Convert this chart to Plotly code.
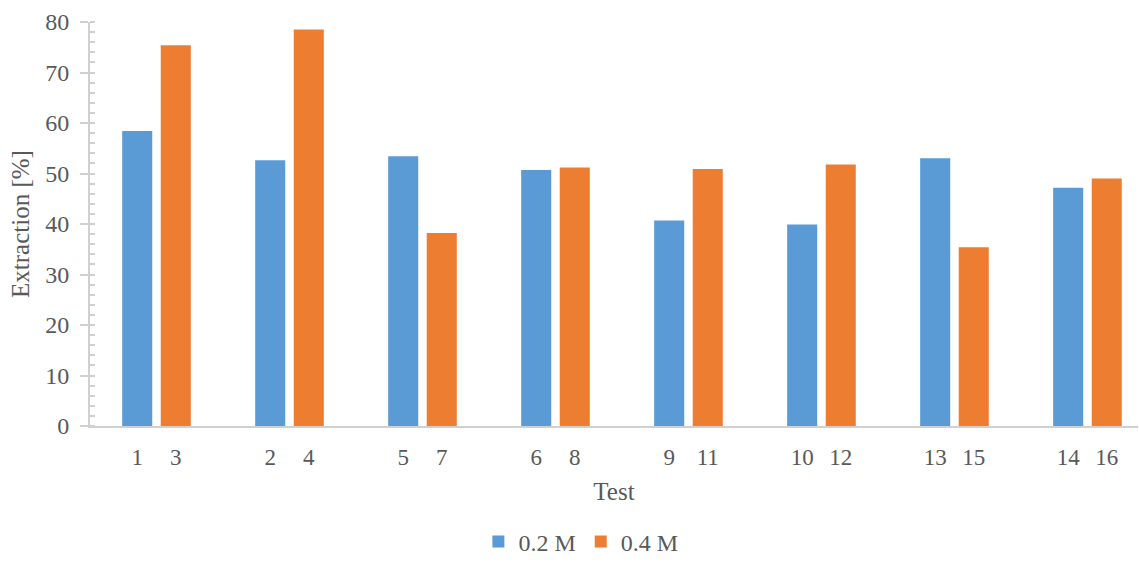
import plotly.graph_objects as go

# Test numbers per group: first run at 0.2 M, second at 0.4 M
tests_02 = ["1", "2", "5", "6", "9", "10", "13", "14"]
tests_04 = ["3", "4", "7", "8", "11", "12", "15", "16"]
extraction_02 = [58.4, 52.6, 53.4, 50.7, 40.7, 39.9, 53.0, 47.2]
extraction_04 = [75.4, 78.5, 38.2, 51.2, 50.9, 51.8, 35.4, 49.0]

BLUE = "#5B9BD5"
ORANGE = "#ED7D31"
GREY_TEXT = "#595959"
AXIS_GREY = "#D0D0D0"
FONT = "Liberation Serif, Times New Roman, serif"

half_gap = 0.145
bar_w = 0.226
groups = list(range(len(tests_02)))
x_02 = [g - half_gap for g in groups]
x_04 = [g + half_gap for g in groups]

fig = go.Figure()
fig.add_trace(go.Bar(x=x_02, y=extraction_02, width=bar_w, name="0.2 M",
                     marker=dict(color=BLUE, line=dict(width=0))))
fig.add_trace(go.Bar(x=x_04, y=extraction_04, width=bar_w, name="0.4 M",
                     marker=dict(color=ORANGE, line=dict(width=0))))

tick_pos, tick_txt = [], []
for a, b, ta, tb in zip(x_02, x_04, tests_02, tests_04):
    tick_pos += [a, b]
    tick_txt += [ta, tb]

fig.update_layout(
    width=1139, height=569,
    margin=dict(l=90, r=1, t=22, b=143, autoexpand=False),
    paper_bgcolor="white", plot_bgcolor="white",
    font=dict(family=FONT, color=GREY_TEXT, size=22),
    barmode="overlay",
    showlegend=True,
    legend=dict(orientation="h", x=0.51, xanchor="center", xref="container",
                y=0.008, yanchor="bottom", yref="container",
                font=dict(size=24, family=FONT, color=GREY_TEXT),
                itemwidth=30, tracegroupgap=0),
)

fig.update_xaxes(
    range=[-0.5, 7.38],
    tickmode="array", tickvals=tick_pos, ticktext=tick_txt,
    ticks="", ticklabelstandoff=9, tickangle=0,
    tickfont=dict(size=23, family=FONT, color=GREY_TEXT),
    showline=True, linecolor=AXIS_GREY, linewidth=2,
    showgrid=False, zeroline=False,
    title=dict(text="Test", font=dict(size=25, family=FONT, color=GREY_TEXT), standoff=14),
)

fig.update_yaxes(
    range=[0, 80], dtick=10,
    ticks="outside", ticklen=8, tickwidth=2, tickcolor=AXIS_GREY,
    minor=dict(dtick=2, ticks="inside", ticklen=5, tickwidth=1.5, tickcolor=AXIS_GREY, showgrid=False),
    ticklabelstandoff=6,
    tickfont=dict(size=24, family=FONT, color=GREY_TEXT),
    showline=True, linecolor=AXIS_GREY, linewidth=2,
    showgrid=False, zeroline=False,
    title=dict(text="Extraction [%]", font=dict(size=25, family=FONT, color=GREY_TEXT), standoff=8),
)

fig.write_html("out.html")
